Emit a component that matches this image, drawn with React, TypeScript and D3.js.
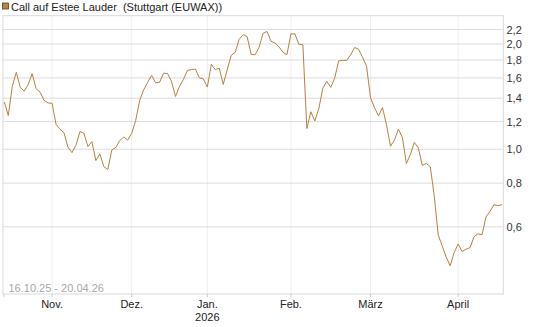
import React from "react";
import * as d3 from "d3";

// Trading-day values (Stuttgart EUWAX), 16.10.25 – 20.04.26
const values: number[] = [
  1.365, 1.249, 1.513, 1.66, 1.503, 1.466, 1.533, 1.645, 1.49, 1.456, 1.379, 1.357,
  1.353, 1.177, 1.141, 1.114, 1.013, 0.978, 1.027, 1.124, 1.11, 1.018, 1.052, 0.928,
  0.97, 0.892, 0.875, 0.995, 1.012, 1.059, 1.084, 1.062, 1.11, 1.208, 1.379, 1.478,
  1.554, 1.627, 1.549, 1.554, 1.65, 1.647, 1.564, 1.416, 1.513, 1.585, 1.681, 1.69,
  1.696, 1.6, 1.59, 1.506, 1.75, 1.69, 1.705, 1.533, 1.69, 1.856, 1.894, 2.064,
  2.128, 2.1, 1.868, 1.862, 1.957, 2.146, 2.172, 2.036, 2.013, 1.963, 1.894, 1.865,
  2.138, 2.138, 1.996, 1.99, 1.146, 1.28, 1.205, 1.305, 1.493, 1.564, 1.503, 1.6,
  1.79, 1.796, 1.796, 1.862, 1.955, 1.932, 1.831, 1.727, 1.403, 1.316, 1.245, 1.316,
  1.177, 1.02, 1.062, 1.142, 1.081, 0.91, 0.965, 1.046, 1.01, 0.899, 0.911, 0.892,
  0.737, 0.569, 0.529, 0.492, 0.464, 0.506, 0.536, 0.51, 0.518, 0.523, 0.562, 0.573,
  0.569, 0.64, 0.664, 0.694, 0.69, 0.694,
];

const startDate = "2025-10-16";
const holidays: string[] = ["2025-12-24", "2025-12-25", "2025-12-26", "2025-12-31", "2026-01-01", "2026-04-03", "2026-04-06"];

const yTicks: number[] = [0.6, 0.8, 1.0, 1.2, 1.4, 1.6, 1.8, 2.0, 2.2];
const monthLabels: string[] = ["Nov.", "Dez.", "Jan.", "Feb.", "März", "April"];
const monthStarts: string[] = ["2025-11", "2025-12", "2026-01", "2026-02", "2026-03", "2026-04"];
const yearLabel = "2026";
const title = "Call auf Estee Lauder  (Stuttgart (EUWAX))";
const rangeLabel = "16.10.25 - 20.04.26";

// build trading-day calendar for the values
function tradingDays(n: number): string[] {
  const out: string[] = [];
  const d = new Date(startDate + "T12:00:00Z");
  while (out.length < n) {
    const iso = d.toISOString().slice(0, 10);
    const wd = d.getUTCDay();
    if (wd !== 0 && wd !== 6 && !holidays.includes(iso)) out.push(iso);
    d.setUTCDate(d.getUTCDate() + 1);
  }
  return out;
}
const dates = tradingDays(values.length);

const W = 545, H = 327;
const plot = { left: 3, right: 503.3, top: 15.7, bottom: 294 };
const LINE = "#b4823f";

export default function App() {
  const x = d3.scaleLinear().domain([-0.33, values.length - 1 + 0.35]).range([plot.left, plot.right]);
  const y = d3.scaleLog().domain([0.3855, 2.41]).range([plot.bottom, plot.top]);
  const line = d3.line<number>().x((_, i) => x(i)).y((v) => y(v));
  const fmt = (v: number) => d3.format(".1f")(v).replace(".", ",");
  const monthIdx = monthStarts.map((m) => dates.findIndex((d) => d.startsWith(m)));

  return (
    <svg width={W} height={H} style={{ position: "absolute", left: 0, top: 0, fontFamily: "'Liberation Sans', Arial, sans-serif" }}>
      <rect x={0} y={0} width={W} height={H} fill="#fff" />
      {/* title */}
      <rect x={2.5} y={3} width={6} height={6} fill="#b4864a" stroke="#5a3d1a" strokeWidth={0.8} />
      <text x={11} y={10.5} fontSize={11} fill="#222" style={{ whiteSpace: "pre" }}>{title}</text>

      {/* vertical grid */}
      {monthIdx.map((i, k) => (
        <line key={"vg" + k} x1={x(i)} x2={x(i)} y1={plot.top} y2={plot.bottom} stroke="#eeeeee" strokeWidth={1} />
      ))}
      {/* horizontal grid */}
      {yTicks.map((t) => (
        <line key={"hg" + t} x1={plot.left} x2={plot.right} y1={y(t)} y2={y(t)} stroke="#dcdcdc" strokeWidth={1} />
      ))}
      {/* frame */}
      <rect x={plot.left} y={plot.top} width={plot.right - plot.left} height={plot.bottom - plot.top} fill="none" stroke="#d9d9d9" strokeWidth={1} />

      {/* y labels */}
      {yTicks.map((t) => (
        <text key={"yl" + t} x={506.5} y={y(t) + 4} fontSize={11} fill="#333">{fmt(t)}</text>
      ))}

      {/* x ticks and labels */}
      <line x1={plot.left + 1} x2={plot.left + 1} y1={plot.bottom} y2={plot.bottom + 3} stroke="#ccc" />
      {monthIdx.map((i, k) => (
        <g key={"xl" + k}>
          <line x1={x(i)} x2={x(i)} y1={plot.bottom} y2={plot.bottom + 3} stroke="#ccc" />
          <text x={x(i)} y={308} fontSize={11} fill="#222" textAnchor="middle">{monthLabels[k]}</text>
          {monthLabels[k] === "Jan." && (
            <text x={x(i)} y={321} fontSize={11} fill="#222" textAnchor="middle">{yearLabel}</text>
          )}
        </g>
      ))}

      <text x={8.5} y={291.5} fontSize={11} fill="#a3a7ad">{rangeLabel}</text>

      <path d={line(values) || ""} fill="none" stroke={LINE} strokeWidth={1} />
    </svg>
  );
}
